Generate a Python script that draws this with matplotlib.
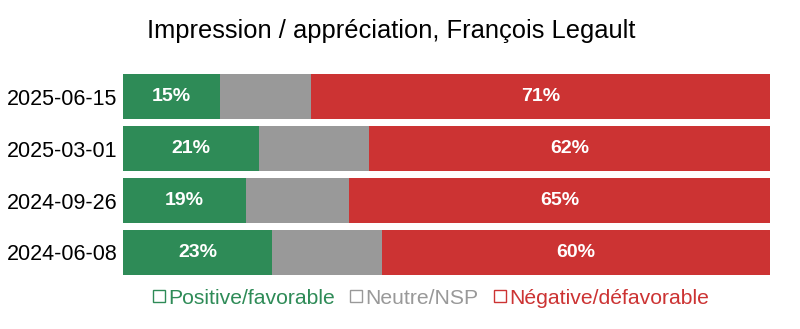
import matplotlib
matplotlib.use("Agg")
from matplotlib import pyplot as plt
from matplotlib.lines import Line2D

plt.rcParams['font.family'] = ['Liberation Sans', 'DejaVu Sans']

dates = ["2025-06-15", "2025-03-01", "2024-09-26", "2024-06-08"]
positive = [15, 21, 19, 23]
neutre = [14, 17, 16, 17]
negative = [71, 62, 65, 60]

labels = ["Positive/favorable", "Neutre/NSP", "Négative/défavorable"]
colors = ["#2e8b57", "#999999", "#cc3333"]

fig = plt.figure(figsize=(8, 3.29), dpi=100)
ax = fig.add_axes([0.15375, 0.164, 0.80875, 0.611])

y = list(range(len(dates)))[::-1]
h = 0.87
left = [0] * len(dates)
for vals, c in zip([positive, neutre, negative], colors):
    ax.barh(y, vals, left=left, height=h, color=c)
    left = [l + v for l, v in zip(left, vals)]

# value labels for favorable and unfavorable shares
for yi, p, nu, ng in zip(y, positive, neutre, negative):
    ax.text(p / 2, yi, f"{p}%", ha='center', va='center', color='white',
            fontsize=14, fontweight='bold')
    ax.text(p + nu + ng / 2, yi, f"{ng}%", ha='center', va='center',
            color='white', fontsize=14, fontweight='bold')

ax.set_xlim(0, 100)
ax.set_ylim(-h / 2, 3 + h / 2)
ax.set_yticks(y)
ax.set_yticklabels(dates, fontsize=15.5)
ax.set_xticks([])
ax.tick_params(axis='y', length=0, pad=4)
for s in ax.spines.values():
    s.set_visible(False)

fig.text(0.489, 0.907, "Impression / appréciation, François Legault",
         ha='center', va='center', fontsize=18.4)

handles = [Line2D([], [], marker='s', mfc='none', mec=c, mew=1, ls='',
                  markersize=8) for c in colors]
fig.legend(handles, labels, loc='center', bbox_to_anchor=(0.537, 0.094),
           ncol=3, frameon=False, fontsize=15.2, labelcolor=colors,
           handletextpad=0.05, columnspacing=0.6, handlelength=0.8)

fig.savefig("out.png", dpi=100)
